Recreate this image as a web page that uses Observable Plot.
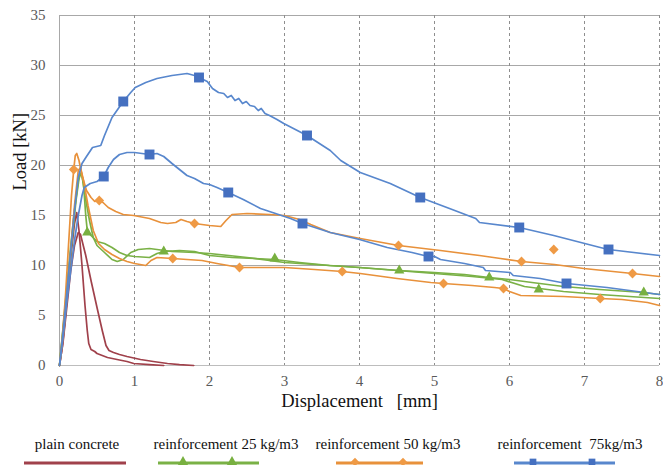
<!DOCTYPE html>
<html>
<head>
<meta charset="utf-8">
<script src="https://cdn.jsdelivr.net/npm/d3@7"></script>
<script src="https://cdn.jsdelivr.net/npm/@observablehq/plot@0.6"></script>
<style>
  html, body { margin: 0; padding: 0; background: #fff; }
  #wrap { position: relative; width: 663px; height: 465px; overflow: hidden; font-family: "Liberation Serif", "DejaVu Serif", serif; }
  #wrap svg text { font-family: "Liberation Serif", "DejaVu Serif", serif; }
  .lg { position: absolute; top: 436px; font-size: 15px; color: #111; white-space: pre; transform: translateX(-50%); font-family: "Liberation Serif", "DejaVu Serif", serif; }
  #sw { position: absolute; left: 0; top: 452px; }
</style>
</head>
<body>
<div id="wrap"></div>
<script>
// ---- tick labels ----
const xTicks = [0, 1, 2, 3, 4, 5, 6, 7, 8];
const yTicks = [0, 5, 10, 15, 20, 25, 30, 35];

// ---- series names ----
const seriesNames = ["plain concrete", "reinforcement 25 kg/m3", "reinforcement 50 kg/m3", "reinforcement  75kg/m3"];

// ---- plain concrete (two specimens) [displacement mm, load kN] ----
const plain1 = [[0,0],[0.04,2],[0.08,5],[0.12,8.5],[0.16,11.5],[0.2,14.2],[0.23,15.3],[0.26,13.5],[0.3,10],[0.34,6],[0.37,3.5],[0.39,2.2],[0.42,1.6],[0.47,1.4],[0.5,1.2],[0.64,0.8],[0.8,0.55],[0.9,0.4],[0.99,0.2],[1.2,0.08],[1.39,0]];
const plain2 = [[0,0],[0.05,2.5],[0.1,6],[0.15,9.5],[0.2,12],[0.25,13.3],[0.28,13.1],[0.35,11],[0.42,8.5],[0.5,5.8],[0.57,3.5],[0.62,2],[0.66,1.5],[0.72,1.3],[0.8,1.1],[0.9,0.9],[1.08,0.6],[1.25,0.4],[1.44,0.2],[1.6,0.08],[1.79,0]];

// ---- 25 kg/m3 ----
const fib25a = [[0,0],[0.05,4],[0.1,8],[0.15,12],[0.2,15.5],[0.25,18.5],[0.29,19.3],[0.32,18.2],[0.35,15],[0.37,13.5],[0.42,13],[0.5,12.4],[0.6,12.2],[0.7,11.8],[0.8,11.3],[0.9,11.0],[1.0,10.9],[1.2,10.8],[1.3,11.2],[1.39,11.4],[1.6,11.5],[1.8,11.4],[2.0,11.0],[2.3,10.8],[2.6,10.7],[2.87,10.6],[3.2,10.3],[3.6,10.0],[4.0,9.8],[4.53,9.5],[5.0,9.3],[5.4,9.1],[5.73,8.8],[6.0,8.6],[6.3,8.3],[6.72,7.9],[7.2,7.6],[7.79,7.3],[8,7.1]];
const fib25b = [[0,0],[0.04,3],[0.1,7.5],[0.16,12],[0.22,16.5],[0.27,19.2],[0.3,19.0],[0.34,17],[0.4,14.5],[0.45,12.8],[0.5,12.0],[0.6,11.3],[0.7,10.6],[0.77,10.4],[0.85,10.6],[0.95,11.3],[1.05,11.6],[1.2,11.7],[1.5,11.4],[1.8,11.3],[2.0,11.2],[2.5,10.8],[3.0,10.3],[3.6,10.0],[4.0,9.8],[4.5,9.5],[5.0,9.2],[5.5,8.9],[5.9,8.6],[6.2,7.9],[6.4,7.7],[6.72,7.4],[7.2,7.1],[7.6,6.9],[8,6.7]];

// ---- 50 kg/m3 ----
const fib50a = [[0,0],[0.04,3],[0.08,7],[0.12,12],[0.16,17],[0.19,19.6],[0.21,21],[0.23,21.2],[0.26,20.5],[0.3,19],[0.36,17.5],[0.42,16.8],[0.47,16.4],[0.53,16.5],[0.58,16.3],[0.65,15.8],[0.75,15.4],[0.85,15.1],[0.99,15.0],[1.2,14.7],[1.35,14.3],[1.44,14.2],[1.55,14.3],[1.62,14.6],[1.7,14.4],[1.8,14.2],[2.0,14.0],[2.15,13.9],[2.22,14.5],[2.3,15.1],[2.5,15.2],[2.8,15.1],[3.0,15.0],[3.2,14.6],[3.35,14.1],[3.61,13.3],[4.01,12.7],[4.52,12.0],[5.08,11.5],[5.6,11.0],[5.88,10.7],[6.16,10.4],[6.6,10.1],[6.99,9.7],[7.64,9.2],[8,8.9]];
const fib50b = [[0,0],[0.05,3],[0.1,7],[0.15,11.5],[0.2,16],[0.25,19.5],[0.28,19.8],[0.32,18.5],[0.38,16],[0.45,13.5],[0.52,12.2],[0.6,11.6],[0.7,11.1],[0.8,10.7],[0.9,10.4],[1.0,10.2],[1.15,10.0],[1.22,10.5],[1.3,10.8],[1.51,10.7],[1.7,10.6],[1.9,10.5],[2.1,10.2],[2.4,9.8],[2.7,9.8],[3.0,9.8],[3.4,9.6],[3.77,9.4],[4.01,9.2],[4.5,8.7],[4.95,8.3],[5.12,8.2],[5.5,8.0],[5.8,7.8],[5.92,7.7],[6.0,7.4],[6.15,7.0],[6.72,6.9],[7.21,6.7],[7.5,6.6],[7.84,6.3],[8,6.0]];

// ---- 75 kg/m3 ----
const fib75a = [[0,0],[0.05,3.5],[0.1,7.5],[0.15,11.5],[0.2,15.5],[0.25,18.8],[0.3,20.2],[0.36,20.9],[0.44,21.8],[0.55,22.0],[0.6,23.0],[0.7,24.8],[0.85,26.4],[0.95,27.3],[1.01,27.8],[1.15,28.3],[1.3,28.7],[1.5,29.0],[1.7,29.2],[1.8,29.0],[1.86,28.8],[1.97,28.4],[2.04,27.7],[2.12,27.3],[2.19,27.2],[2.24,26.8],[2.29,27.0],[2.34,26.5],[2.39,26.7],[2.44,26.2],[2.49,26.4],[2.54,26.0],[2.6,25.9],[2.65,25.5],[2.69,25.7],[2.74,25.2],[2.8,25.0],[2.9,24.6],[2.99,24.2],[3.3,23.0],[3.61,21.5],[3.75,20.5],[4.01,19.3],[4.41,18.2],[4.81,16.8],[5.2,15.7],[5.55,14.7],[5.6,14.3],[6.13,13.8],[6.59,13.0],[7.21,11.8],[7.32,11.6],[8,11.0]];
const fib75b = [[0,0],[0.05,3],[0.1,6.5],[0.15,9.5],[0.2,12.5],[0.25,15],[0.3,17],[0.33,17.8],[0.41,18.2],[0.5,18.4],[0.59,18.9],[0.65,19.8],[0.72,20.6],[0.8,21.1],[0.9,21.3],[1.0,21.3],[1.2,21.1],[1.3,21.2],[1.39,20.9],[1.5,20.2],[1.6,19.6],[1.7,19.0],[1.8,18.7],[1.92,18.2],[2.0,18.1],[2.1,17.8],[2.25,17.3],[2.45,16.6],[2.68,15.7],[2.8,15.4],[3.08,14.7],[3.24,14.2],[3.61,13.3],[4.0,12.6],[4.37,11.8],[4.7,11.3],[4.92,10.9],[5.0,10.9],[5.08,10.6],[5.4,10.2],[5.65,9.8],[5.68,9.5],[6.01,9.3],[6.05,9.0],[6.41,8.7],[6.76,8.2],[7.3,7.8],[7.6,7.5],[8,7.1]];

// ---- markers ----
const mark25 = [[0.37,13.3],[1.39,11.4],[2.87,10.7],[4.53,9.5],[5.73,8.8],[6.39,7.6],[7.79,7.3]];
const mark50 = [[0.19,19.6],[0.53,16.5],[1.8,14.2],[4.52,12.0],[6.16,10.4],[7.64,9.2],[6.59,11.6],[1.51,10.7],[2.4,9.8],[3.77,9.4],[5.12,8.2],[5.92,7.7],[7.21,6.7]];
const mark75 = [[0.85,26.4],[1.86,28.8],[3.3,23.0],[4.81,16.8],[6.13,13.8],[7.32,11.6],[0.59,18.9],[1.2,21.1],[2.25,17.3],[3.24,14.2],[4.92,10.9],[6.76,8.2]];

const C = {
  red: "#A0414B",
  green: "#7AB146", greenM: "#78B040",
  orange: "#E8913B", orangeM: "#EF9A45",
  blue: "#5887CD", blueM: "#4570C0"
};
const FONT = "'Liberation Serif', 'DejaVu Serif', serif";

const ln = (data, stroke) => Plot.line(data, {x: d => d[0], y: d => d[1], stroke, strokeWidth: 1.7, curve: "linear"});

const chart = Plot.plot({
  width: 663,
  height: 420,
  marginLeft: 59,
  marginRight: 4,
  marginTop: 15,
  marginBottom: 55,
  x: {domain: [0, 8]},
  y: {domain: [0, 35]},
  style: {fontFamily: FONT, fontSize: "15px", color: "#595959", background: "#fff"},
  marks: [
    Plot.gridY(yTicks, {stroke: "#A8A8A8", strokeOpacity: 1, strokeWidth: 1}),
    Plot.gridX(xTicks.filter(t => t > 0), {stroke: "#8E8E8E", strokeOpacity: 1, strokeWidth: 1, strokeDasharray: "3,3"}),
    Plot.ruleX([0], {stroke: "#A8A8A8"}),
    Plot.ruleY([0], {stroke: "#BDBDBD"}),
    Plot.axisX(xTicks, {tickSize: 0, tickPadding: 10, label: null, fill: "#595959", fontSize: 15}),
    Plot.axisY(yTicks, {tickSize: 0, tickPadding: 14, label: null, fill: "#595959", fontSize: 15}),
    ln(plain1, C.red), ln(plain2, C.red),
    ln(fib25a, C.green), ln(fib25b, C.green),
    ln(fib50a, C.orange), ln(fib50b, C.orange),
    ln(fib75a, C.blue), ln(fib75b, C.blue),
    Plot.dot(mark25, {x: d => d[0], y: d => d[1], symbol: "triangle", r: 3.8, fill: C.greenM, stroke: "none"}),
    Plot.dot(mark50, {x: d => d[0], y: d => d[1], symbol: "diamond2", r: 4.4, fill: C.orangeM, stroke: "none"}),
    Plot.dot(mark75, {x: d => d[0], y: d => d[1], symbol: "square", r: 5.6, fill: C.blueM, stroke: "none"}),
    Plot.text(["Displacement\u00a0\u00a0\u00a0[mm]"], {frameAnchor: "bottom", dy: 41, fontSize: 18.5, fill: "#111", text: d => d}),
    Plot.text(["Load [kN]"], {frameAnchor: "left", dx: -39, rotate: -90, fontSize: 18.5, fill: "#111", text: d => d})
  ]
});

const wrap = document.getElementById("wrap");
wrap.appendChild(chart);

// ---- legend ----
const legendItems = [
  {name: seriesNames[0], cx: 77, x1: 24, x2: 126, color: C.red, mcolor: C.red, sym: null, mk: []},
  {name: seriesNames[1], cx: 226, x1: 158, x2: 259, color: C.green, mcolor: C.greenM, sym: d3.symbolTriangle, mk: [183, 232]},
  {name: seriesNames[2], cx: 388, x1: 336, x2: 423, color: C.orange, mcolor: C.orangeM, sym: d3.symbolDiamond2, mk: [355, 403]},
  {name: seriesNames[3], cx: 570, x1: 514, x2: 615, color: C.blue, mcolor: C.blueM, sym: d3.symbolSquare, mk: [533, 592]}
];
legendItems.forEach(it => {
  const dv = document.createElement("div");
  dv.className = "lg";
  dv.style.left = it.cx + "px";
  dv.textContent = it.name;
  wrap.appendChild(dv);
});
const sw = d3.select(wrap).append("svg").attr("id", "sw").attr("width", 663).attr("height", 20);
legendItems.forEach(it => {
  sw.append("line").attr("x1", it.x1).attr("x2", it.x2).attr("y1", 11).attr("y2", 11)
    .attr("stroke", it.color).attr("stroke-width", 3);
  if (it.sym) {
    it.mk.forEach(mx => {
      sw.append("path").attr("d", d3.symbol(it.sym, 45)()).attr("transform", `translate(${mx},10)`).attr("fill", it.mcolor);
    });
  }
});
</script>
</body>
</html>
